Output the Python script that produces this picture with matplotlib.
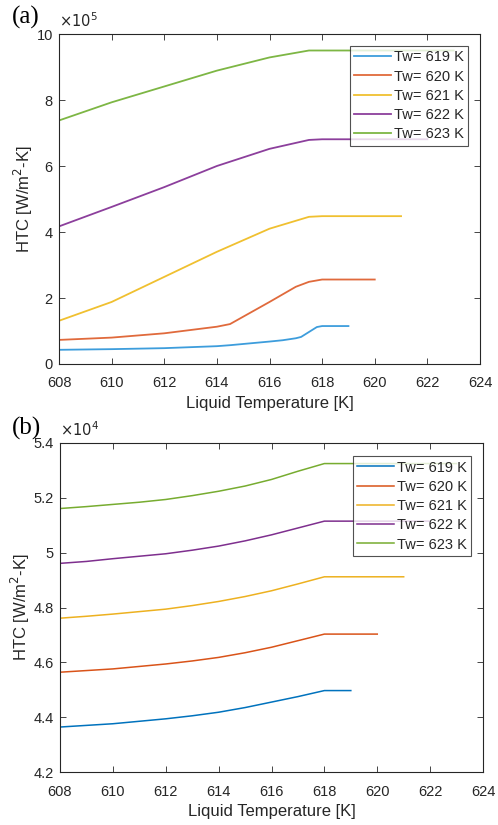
import matplotlib
matplotlib.use("Agg")
import matplotlib.pyplot as plt
import numpy as np

plt.rcParams['font.family'] = ['Liberation Sans', 'DejaVu Sans']

labels = ['Tw= 619 K', 'Tw= 620 K', 'Tw= 621 K', 'Tw= 622 K', 'Tw= 623 K']
colors_a = ['#3d9ddc', '#e06a3c', '#f0c030', '#8c3f9c', '#7db644']
colors_b = ['#0072BD', '#D95319', '#EDB120', '#7E2F8E', '#77AC30']

# panel (a): HTC in units of 1e5 W/m2-K
a_x = [
    [608, 610, 612, 614, 614.5, 616, 616.5, 617, 617.2, 617.8, 618, 619],
    [608, 610, 612, 614, 614.5, 616, 617, 617.5, 618, 620],
    [608, 610, 612, 614, 616, 617.5, 618, 621],
    [608, 610, 612, 614, 616, 617.5, 618, 622],
    [608, 610, 612, 614, 616, 617.5, 618, 623],
]
a_y = [
    [0.43, 0.45, 0.48, 0.54, 0.57, 0.68, 0.72, 0.78, 0.82, 1.12, 1.15, 1.15],
    [0.73, 0.80, 0.93, 1.13, 1.21, 1.88, 2.34, 2.49, 2.56, 2.56],
    [1.31, 1.88, 2.64, 3.40, 4.10, 4.46, 4.48, 4.48],
    [4.17, 4.76, 5.36, 6.00, 6.52, 6.79, 6.81, 6.81],
    [7.38, 7.93, 8.41, 8.89, 9.29, 9.50, 9.50, 9.50],
]

# panel (b): HTC in units of 1e4 W/m2-K
b_x_curve = [608, 609, 610, 611, 612, 613, 614, 615, 616, 617, 618]
b_end = [619, 620, 621, 622, 623]
b_y = [
    [4.364, 4.370, 4.376, 4.385, 4.394, 4.405, 4.418, 4.435, 4.455, 4.475, 4.497],
    [4.564, 4.570, 4.576, 4.585, 4.594, 4.605, 4.618, 4.635, 4.655, 4.679, 4.703],
    [4.761, 4.768, 4.776, 4.785, 4.794, 4.807, 4.822, 4.840, 4.861, 4.886, 4.912],
    [4.961, 4.968, 4.978, 4.987, 4.996, 5.009, 5.024, 5.043, 5.065, 5.090, 5.115],
    [5.161, 5.168, 5.176, 5.184, 5.194, 5.208, 5.224, 5.243, 5.267, 5.297, 5.325],
]

fig = plt.figure(figsize=(4.98, 8.25), dpi=100)
W, H = 498, 825
ax1 = fig.add_axes([59 / W, 1 - 364 / H, 421 / W, 330 / H])
ax2 = fig.add_axes([60 / W, 1 - 772 / H, 423 / W, 329 / H])

grey = '#262626'


def style(ax):
    ax.set_xlim(608, 624)
    ax.set_xticks(np.arange(608, 625, 2))
    for s in ax.spines.values():
        s.set_color('#262626')
        s.set_linewidth(0.8)
    ax.tick_params(direction='in', top=True, right=True, length=4, width=0.6,
                   labelsize=10.5, colors=grey)
    ax.tick_params(axis='x', pad=9)
    ax.tick_params(axis='y', pad=4.5)
    ax.set_xlabel('Liquid Temperature [K]', fontsize=12, color=grey, labelpad=4)
    ax.set_ylabel('HTC [W/m$^2$-K]', fontsize=12, color=grey, labelpad=1)


def add_legend(ax, anchor):
    leg = ax.legend(loc='upper right', bbox_to_anchor=anchor, fontsize=10.5,
                    frameon=True, fancybox=False, edgecolor='#262626',
                    handlelength=2.5, handletextpad=0.2, labelspacing=0.36,
                    borderpad=0.3, borderaxespad=0)
    leg.get_frame().set_linewidth(0.8)
    for t in leg.get_texts():
        t.set_color(grey)


for i in range(5):
    ax1.plot(a_x[i], a_y[i], color=colors_a[i], lw=1.3, label=labels[i])
ax1.set_ylim(0, 10)
ax1.set_yticks([0, 2, 4, 6, 8, 10])
style(ax1)
ax1.text(0.0, 1.012, r'$\times10^5$', transform=ax1.transAxes, fontsize=10.5,
         color=grey, ha='left', va='bottom')
add_legend(ax1, (0.972, 0.964))

for i in range(5):
    xs = b_x_curve + [b_end[i]]
    ys = b_y[i] + [b_y[i][-1]]
    ax2.plot(xs, ys, color=colors_b[i], lw=1.1, label=labels[i])
ax2.set_ylim(4.2, 5.4)
ax2.set_yticks([4.2, 4.4, 4.6, 4.8, 5.0, 5.2, 5.4])
ax2.set_yticklabels(['4.2', '4.4', '4.6', '4.8', '5', '5.2', '5.4'])
style(ax2)
ax2.text(0.0, 1.012, r'$\times10^4$', transform=ax2.transAxes, fontsize=10.5,
         color=grey, ha='left', va='bottom')
add_legend(ax2, (0.972, 0.96))

fig.text(12 / W, 1 - 17 / H, '(a)', family=['Liberation Serif'], fontsize=18,
         va='center', ha='left')
fig.text(12 / W, 1 - 428 / H, '(b)', family=['Liberation Serif'], fontsize=18,
         va='center', ha='left')

fig.savefig('out.png', dpi=100)
